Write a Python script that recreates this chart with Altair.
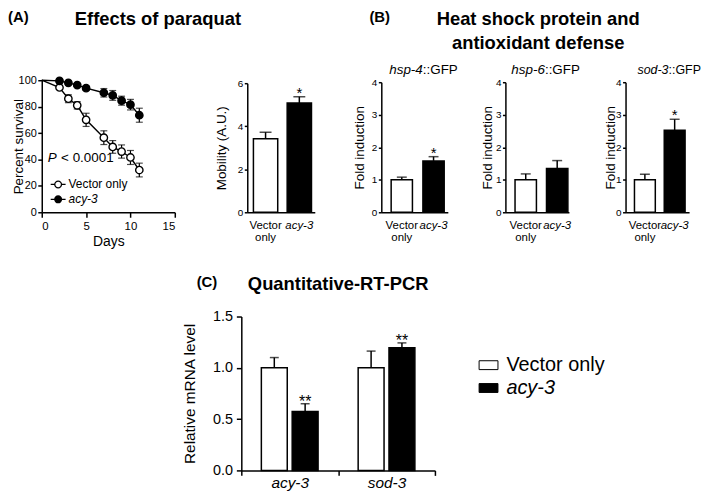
import altair as alt
import pandas as pd

FONT = "Liberation Sans"

# ---------------- Panel A: survival on paraquat ----------------
days = [2, 3, 4, 5, 7, 8, 9, 10, 11]
vector_survival = [94.5, 86, 81, 70, 56.5, 49.5, 46, 41.5, 32]
vector_survival_err = [1.5, 3, 2.8, 5, 5.2, 4.8, 5, 5.3, 5.2]
acy3_survival = [99.5, 98, 96.3, 94, 90.5, 88.5, 84.5, 81.5, 73.5]
acy3_survival_err = [1, 1, 1, 1.5, 3.2, 3.7, 3.4, 4, 5.3]
start_day = 0
start_survival = 100

groups = ["Vector only", "acy-3"]

# ---------------- Panel A: mobility ----------------
mobility = [3.42, 5.08]
mobility_err = [0.30, 0.29]
mobility_sig = ["", "*"]

# ---------------- Panel B: reporters ----------------
hsp4_fold = [1.0, 1.58]
hsp4_err = [0.08, 0.13]
hsp4_sig = ["", "*"]
hsp6_fold = [1.0, 1.35]
hsp6_err = [0.18, 0.24]
hsp6_sig = ["", ""]
sod3_fold = [1.0, 2.52]
sod3_err = [0.17, 0.34]
sod3_sig = ["", "*"]

# ---------------- Panel C: qRT-PCR ----------------
genes = ["acy-3", "sod-3"]
qpcr_vector = [1.0, 1.0]
qpcr_vector_err = [0.10, 0.163]
qpcr_acy3 = [0.575, 1.195]
qpcr_acy3_err = [0.075, 0.048]
qpcr_vector_sig = ["", ""]
qpcr_acy3_sig = ["**", "**"]

# overall drawing area (pixels): top row panels share a baseline, panel C sits below
TOTAL_W = 652
TOTAL_H = 391
TOP_H = 131

fill_scale_kw = dict(domain=groups, range=["white", "black"])
italic_acy = {"condition": {"test": "datum.value == 'acy-3'", "value": "italic"}, "value": "normal"}
italic_expr = {"expr": "datum.value == 'acy-3' ? 'italic' : 'normal'"}


def txt(text, x, y, size, weight="normal", style="normal", align="left", baseline="alphabetic"):
    return alt.Chart(pd.DataFrame({"t": [text]})).mark_text(
        align=align, baseline=baseline, font=FONT, fontSize=size, fontWeight=weight,
        fontStyle=style, color="black"
    ).encode(x=alt.value(x), y=alt.value(y), text="t:N")


# ---- survival chart ----
pts_df = pd.DataFrame({
    "group": [groups[0]] * len(days) + [groups[1]] * len(days),
    "day": days + days,
    "surv": vector_survival + acy3_survival,
    "err": vector_survival_err + acy3_survival_err,
})
pts_df["lo"] = pts_df["surv"] - pts_df["err"]
pts_df["hi"] = pts_df["surv"] + pts_df["err"]
line_df = pd.concat([
    pd.DataFrame({"group": groups, "day": [start_day] * 2, "surv": [start_survival] * 2}),
    pts_df[["group", "day", "surv"]],
], ignore_index=True)

surv_x = alt.X("day:Q", scale=alt.Scale(domain=[0, 15], nice=False, range=[0, 134]),
               axis=alt.Axis(orient="bottom", offset=TOP_H - TOTAL_H, values=[0, 5, 10, 15], format="d",
                             title="Days", titleFontSize=14, titlePadding=3, labelFontSize=11.5,
                             labelPadding=3, tickSize=5))
surv_y = alt.Y("surv:Q", scale=alt.Scale(domain=[0, 100], nice=False, range=[TOP_H, -2]),
               axis=alt.Axis(orient="left", values=[0, 20, 40, 60, 80, 100], format="d",
                             title="Percent survival", titleFontSize=13.5, titleX=-16, labelFontSize=11,
                             labelPadding=1.5, tickSize=4))

surv_line = alt.Chart(line_df).mark_line(color="black", strokeWidth=1.4).encode(
    x=surv_x, y=surv_y, detail="group:N")
surv_rule = alt.Chart(pts_df).mark_rule(color="black", strokeWidth=1.2).encode(
    x="day:Q", y="lo:Q", y2="hi:Q")
surv_cap_lo = alt.Chart(pts_df).mark_tick(color="black", thickness=1.2, size=7, orient="horizontal").encode(
    x="day:Q", y="lo:Q")
surv_cap_hi = alt.Chart(pts_df).mark_tick(color="black", thickness=1.2, size=7, orient="horizontal").encode(
    x="day:Q", y="hi:Q")
surv_pts = alt.Chart(pts_df).mark_point(shape="circle", filled=True, size=55, stroke="black",
                                        strokeWidth=1.4, opacity=1).encode(
    x="day:Q", y="surv:Q",
    fill=alt.Fill("group:N", scale=alt.Scale(**fill_scale_kw), legend=alt.Legend(
        title=None, orient="none", legendX=8, legendY=94.5,
        symbolType="M-1,0L-0.45,0M0.45,0L1,0M-0.45,0A0.45,0.45,0,1,1,0.45,0A0.45,0.45,0,1,1,-0.45,0Z",
        symbolSize=225, symbolStrokeColor="black", symbolStrokeWidth=1.3,
        labelFont=FONT, labelFontSize=12, labelOffset=2, rowPadding=0, padding=0,
        labelFontStyle=italic_expr)))

survival = alt.layer(surv_line, surv_rule, surv_cap_lo, surv_cap_hi, surv_pts)


# ---- generic two-bar panel ----
def bar_panel(vals, errs, sig, x0, width, ytop, ytitle, ymax, ystep, title_x, tick_font, cap, pi, po, align):
    df = pd.DataFrame({"group": groups, "v": vals,
                       "hi": [a + b for a, b in zip(vals, errs)], "sig": sig})
    xscale = alt.Scale(domain=groups, paddingInner=pi, paddingOuter=po, align=align, range=[x0, x0 + width])
    x = alt.X("group:N", sort=groups, scale=xscale,
              axis=alt.Axis(orient="bottom", offset=TOP_H - TOTAL_H, title=None, labelAngle=0, ticks=False,
                            tickSize=0, labelPadding=7.5, labelFontSize=11.5, labelLineHeight=11.5,
                            labelBaseline="top", labelOverlap=False, labelBound=False,
                            labelExpr="datum.value == 'Vector only' ? ['Vector', 'only'] : datum.label",
                            labelFontStyle=italic_acy))
    y = alt.Y("v:Q", scale=alt.Scale(domain=[0, ymax], nice=False, range=[TOP_H, ytop]),
              axis=alt.Axis(orient="left", offset=-x0, values=list(range(0, ymax + 1, ystep)), format="d",
                            title=ytitle, titleFontSize=13.5, titleX=title_x, labelFontSize=tick_font,
                            labelPadding=1.5, tickSize=3))
    xs = alt.X("group:N", sort=groups)
    bars = alt.Chart(df).mark_bar(stroke="black", strokeWidth=1.5).encode(
        x=x, y=y, fill=alt.Fill("group:N", scale=alt.Scale(**fill_scale_kw), legend=None))
    rule = alt.Chart(df).mark_rule(color="black", strokeWidth=1.5).encode(x=xs, y="v:Q", y2="hi:Q")
    capm = alt.Chart(df).mark_tick(color="black", thickness=1.5, size=cap, orient="horizontal").encode(
        x=xs, y="hi:Q")
    star = alt.Chart(df).mark_text(font=FONT, fontSize=15, baseline="alphabetic", dy=1, color="black").encode(
        x=xs, y="hi:Q", text="sig:N")
    return alt.layer(bars, rule, capm, star)


mob = bar_panel(mobility, mobility_err, mobility_sig, 207, 68, 1, "Mobility (A.U.)", 6, 2, -19.3, 10, 12,
                0.28, 0.14, 0.65)
hsp4c = bar_panel(hsp4_fold, hsp4_err, hsp4_sig, 342, 67, 0, "Fold induction", 4, 1, -14.8, 10, 10,
                  0.33, 0.2125, 0.73)
hsp6c = bar_panel(hsp6_fold, hsp6_err, hsp6_sig, 467, 64, 0, "Fold induction", 4, 1, -11.3, 10, 10,
                  0.32, 0.17, 0.9)
sod3c = bar_panel(sod3_fold, sod3_err, sod3_sig, 588, 64, 0, "Fold induction", 4, 1, -8, 10, 10,
                  0.30, 0.217, 0.69)

# ---- qRT-PCR ----
Q_X0, Q_W, Q_TOP = 201, 195, 236
qdf = pd.DataFrame({
    "gene": genes * 2,
    "group": [groups[0]] * 2 + [groups[1]] * 2,
    "v": qpcr_vector + qpcr_acy3,
    "hi": [a + b for a, b in zip(qpcr_vector + qpcr_acy3, qpcr_vector_err + qpcr_acy3_err)],
    "sig": qpcr_vector_sig + qpcr_acy3_sig,
})
qx = alt.X("gene:N", sort=genes, scale=alt.Scale(paddingInner=0, paddingOuter=0, range=[Q_X0, Q_X0 + Q_W]),
           axis=alt.Axis(orient="bottom", title=None, labelAngle=0, labelFontSize=15.5, labelFontStyle="italic",
                         tickBand="extent", tickSize=5, labelPadding=0, labelBaseline="top"))
qxo = alt.XOffset("group:N", sort=groups,
                  scale=alt.Scale(domain=groups, paddingInner=0.16, paddingOuter=0.65))
qy = alt.Y("v:Q", scale=alt.Scale(domain=[0, 1.5], nice=False, range=[TOTAL_H, Q_TOP]),
           axis=alt.Axis(orient="left", offset=-Q_X0, values=[0, 0.5, 1, 1.5], format=".1f",
                         title="Relative mRNA level", titleFontSize=15.5, titleX=-44, labelFontSize=14.5,
                         labelPadding=4, tickSize=5))
q_bars = alt.Chart(qdf).mark_bar(stroke="black", strokeWidth=1.5).encode(
    x=qx, xOffset=qxo, y=qy,
    fill=alt.Fill("group:N", scale=alt.Scale(**fill_scale_kw), legend=alt.Legend(
        title=None, orient="none", legendX=Q_X0 + 239, legendY=Q_TOP + 39,
        symbolType="M-1,-0.47H1V0.47H-1Z", symbolSize=361,
        symbolStrokeColor="black", symbolStrokeWidth=1,
        labelFont=FONT, labelFontSize=20, labelOffset=8, rowPadding=3, padding=0,
        labelFontStyle=italic_expr)))
q_enc = dict(x=alt.X("gene:N", sort=genes), xOffset=alt.XOffset("group:N", sort=groups))
q_rule = alt.Chart(qdf).mark_rule(color="black", strokeWidth=1.5).encode(y="v:Q", y2="hi:Q", **q_enc)
q_cap = alt.Chart(qdf).mark_tick(color="black", thickness=1.5, size=9, orient="horizontal").encode(
    y="hi:Q", **q_enc)
q_star = alt.Chart(qdf).mark_text(font=FONT, fontSize=16, baseline="alphabetic", dy=3, color="black").encode(
    y="hi:Q", text="sig:N", **q_enc)
qpcr = alt.layer(q_bars, q_rule, q_cap, q_star)

texts = [
    txt("P", 6, 80, 13.5, style="italic"),
    txt("< 0.0001", 19.5, 80, 13.5),
    txt("(A)", -34, -60.5, 15, weight="bold"),
    txt("Effects of paraquat", 117, -58, 18.5, weight="bold", align="center"),
    txt("(B)", 330, -60.5, 15, weight="bold"),
    txt("Heat shock protein and", 500, -58, 18.5, weight="bold", align="center"),
    txt("antioxidant defense", 500, -33, 18.5, weight="bold", align="center"),
    txt("hsp-4", 350, -7.8, 13.5, style="italic"), txt("::GFP", 383.8, -7.8, 13.5),
    txt("hsp-6", 473, -7.8, 13.5, style="italic"), txt("::GFP", 506.8, -7.8, 13.5),
    txt("sod-3", 600, -7.8, 12.5, style="italic"), txt("::GFP", 631.3, -7.8, 12.5),
    txt("(C)", Q_X0 - 45, Q_TOP - 29.3, 15, weight="bold"),
    txt("Quantitative-RT-PCR", Q_X0 + 97.5, Q_TOP - 27, 18.5, weight="bold", align="center"),
]

chart = alt.layer(survival, mob, hsp4c, hsp6c, sod3c, qpcr, *texts).resolve_scale(
    x="independent", y="independent", fill="independent"
).resolve_axis(x="independent", y="independent").resolve_legend(fill="independent").properties(
    width=TOTAL_W, height=TOTAL_H,
    padding={"left": 0, "top": 0, "right": 0, "bottom": 0}, background="white"
).configure_view(stroke=None).configure_axis(
    domainColor="black", domainWidth=1.5, tickColor="black", tickWidth=1.5,
    labelColor="black", titleColor="black", labelFont=FONT, titleFont=FONT,
    titleFontWeight="normal", grid=False
).configure_legend(labelColor="black")

chart.save("out.html", embed_options={"renderer": "svg", "actions": False})
